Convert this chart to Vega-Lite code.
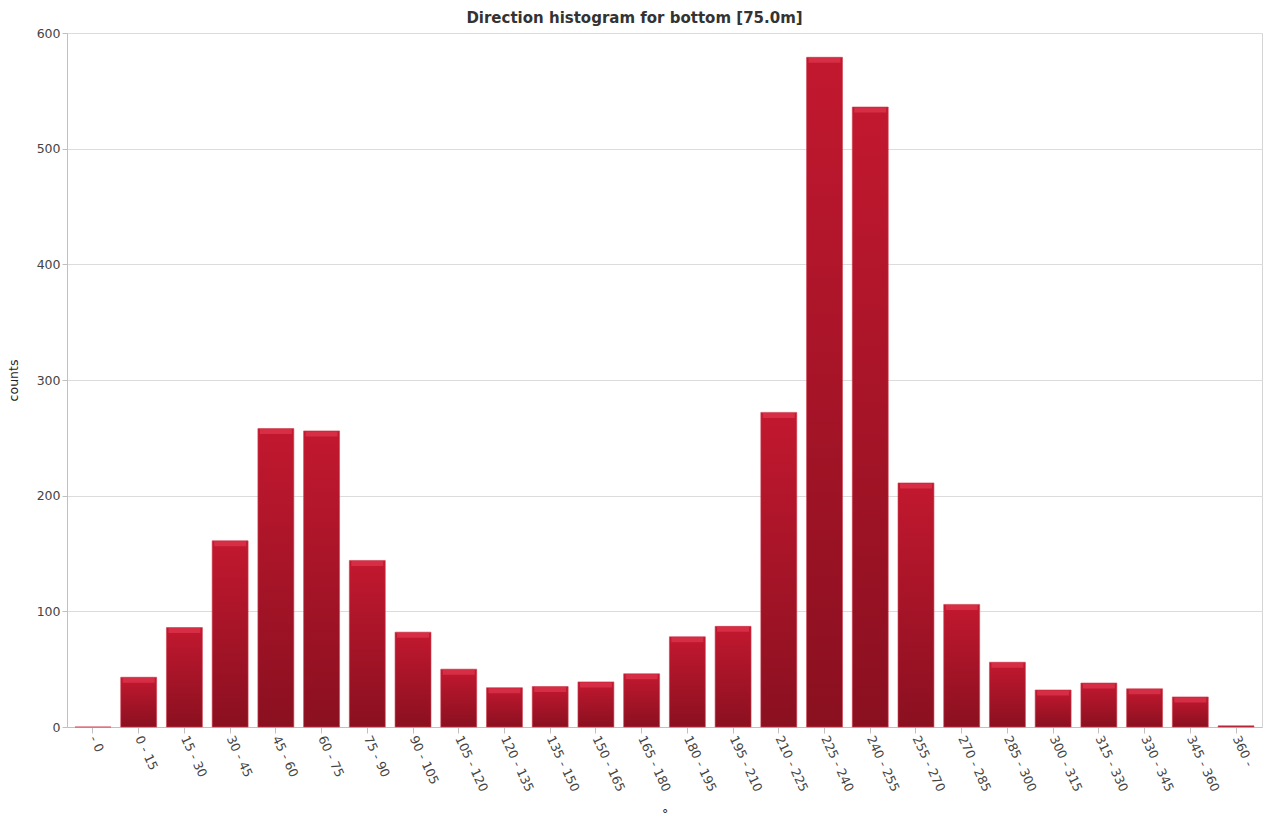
{
  "$schema": "https://vega.github.io/schema/vega-lite/v6.json",
  "width": 1195,
  "height": 694,
  "autosize": {"type": "none"},
  "padding": {"left": 67, "top": 33, "right": 7, "bottom": 93},
  "background": "white",
  "title": {"text": "Direction histogram for bottom [75.0m]", "font": "DejaVu Sans", "fontSize": 15, "fontWeight": "bold", "color": "#333333", "offset": 1, "dx": -30},
  "config": {
    "view": {"stroke": "#d4d4d4", "strokeWidth": 1},
    "axis": {"labelFont": "DejaVu Sans", "labelFontSize": 12.5, "labelColor": "#444444", "titleFont": "DejaVu Sans", "titleFontSize": 12.5, "titleFontWeight": "normal", "titleColor": "#222222", "domainColor": "#c0c0c0", "tickColor": "#c0c0c0", "gridColor": "#dcdcdc"}
  },
  "data": {"values": [
    {"bin": "- 0", "count": 0},
    {"bin": "0 - 15", "count": 43},
    {"bin": "15 - 30", "count": 86},
    {"bin": "30 - 45", "count": 161},
    {"bin": "45 - 60", "count": 258},
    {"bin": "60 - 75", "count": 256},
    {"bin": "75 - 90", "count": 144},
    {"bin": "90 - 105", "count": 82},
    {"bin": "105 - 120", "count": 50},
    {"bin": "120 - 135", "count": 34},
    {"bin": "135 - 150", "count": 35},
    {"bin": "150 - 165", "count": 39},
    {"bin": "165 - 180", "count": 46},
    {"bin": "180 - 195", "count": 78},
    {"bin": "195 - 210", "count": 87},
    {"bin": "210 - 225", "count": 272},
    {"bin": "225 - 240", "count": 579},
    {"bin": "240 - 255", "count": 536},
    {"bin": "255 - 270", "count": 211},
    {"bin": "270 - 285", "count": 106},
    {"bin": "285 - 300", "count": 56},
    {"bin": "300 - 315", "count": 32},
    {"bin": "315 - 330", "count": 38},
    {"bin": "330 - 345", "count": 33},
    {"bin": "345 - 360", "count": 26},
    {"bin": "360 -", "count": 1}
  ]},
  "encoding": {
    "x": {"field": "bin", "type": "nominal", "sort": null, "title": "°",
      "scale": {"paddingInner": 0.214, "paddingOuter": 0.175},
      "axis": {"labelAngle": 65, "labelAlign": "left", "labelBaseline": "middle", "tickSize": 6, "labelPadding": 3, "titlePadding": 14, "grid": false}},
    "y": {"field": "count", "type": "quantitative", "title": "counts",
      "scale": {"domain": [0, 600], "nice": false},
      "axis": {"values": [0, 100, 200, 300, 400, 500, 600], "tickSize": 5, "titlePadding": 16, "domain": true, "grid": true}}
  },
  "layer": [
    {"mark": {"type": "bar", "stroke": "#d04050", "strokeWidth": 0.6,
      "color": {"gradient": "linear", "x1": 0, "y1": 0, "x2": 0, "y2": 1, "stops": [{"offset": 0, "color": "#c2182f"}, {"offset": 1, "color": "#8a1020"}]}}},
    {"transform": [{"filter": "datum.count > 5"}],
      "mark": {"type": "tick", "color": "#e03850", "thickness": 5, "size": 32, "yOffset": 3}}
  ]
}
